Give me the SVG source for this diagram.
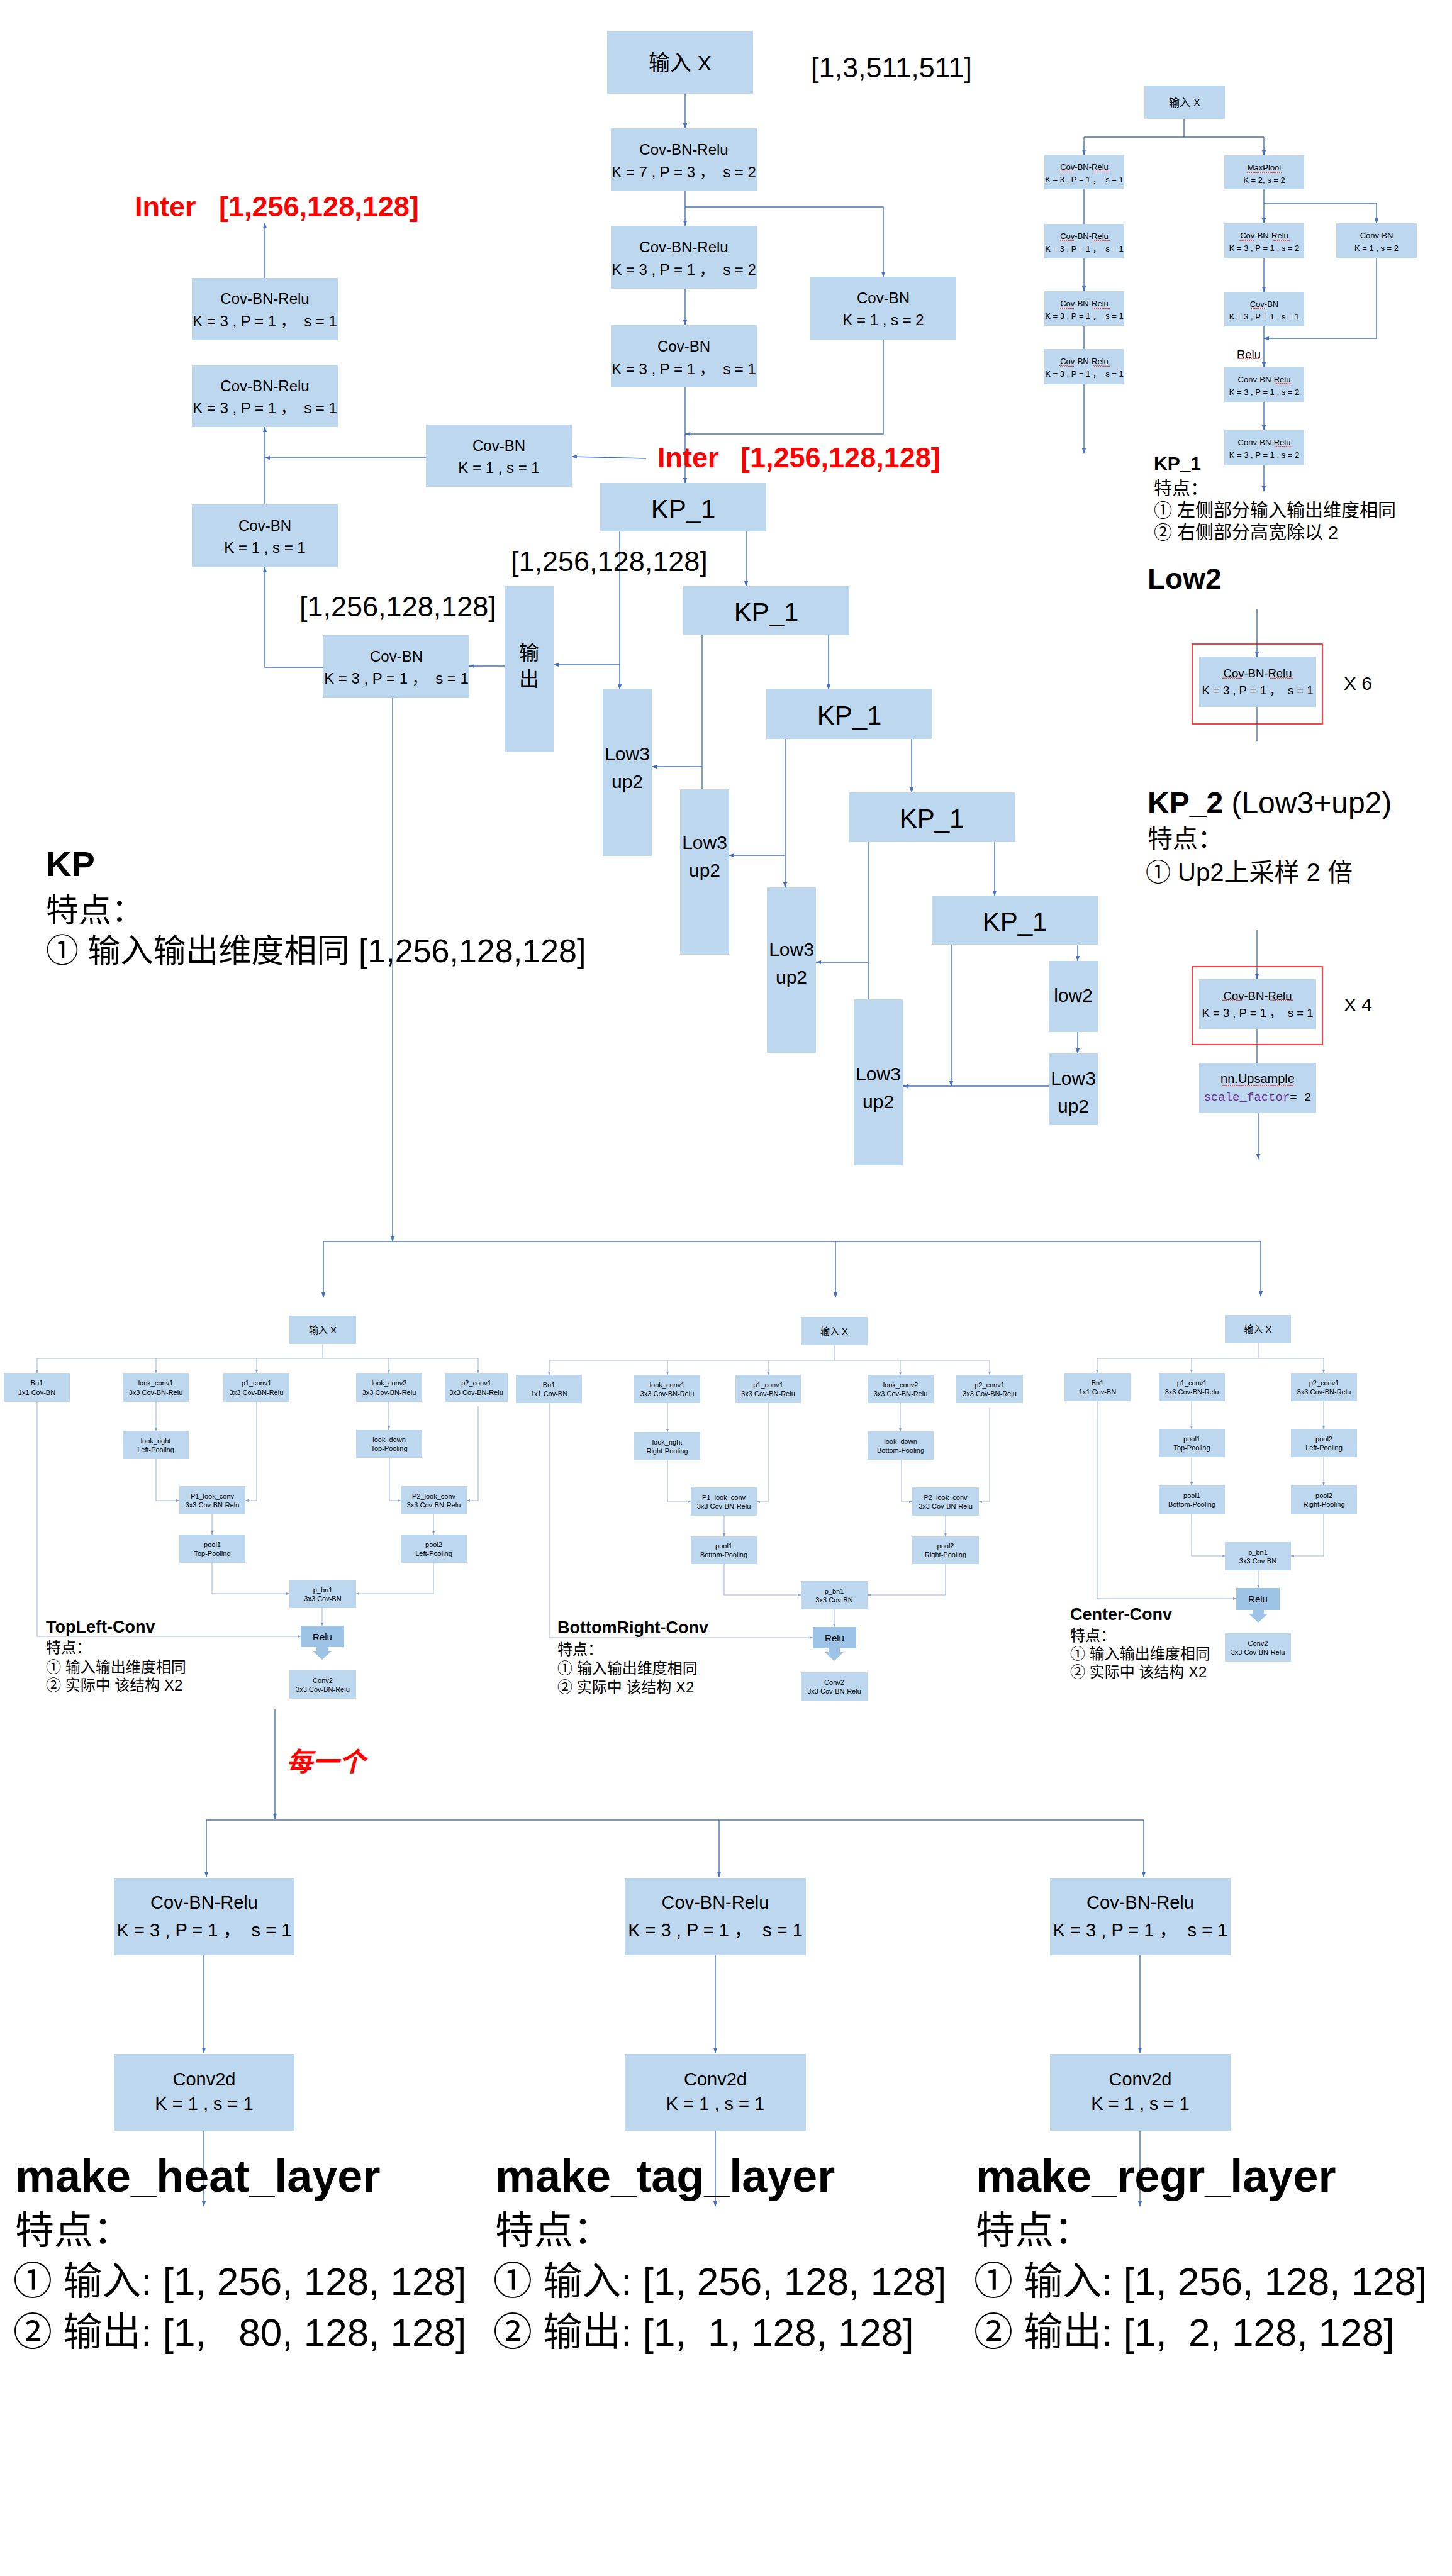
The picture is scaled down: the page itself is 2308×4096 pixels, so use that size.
<svg xmlns="http://www.w3.org/2000/svg" width="2308" height="4096" viewBox="0 0 2308 4096">
<defs>
<style>
.n{fill:#BDD7EE}
.nr{fill:#9DC3E6}
text{font-family:"Liberation Sans","Noto Sans CJK SC",sans-serif;fill:#000}
.m{text-anchor:middle;dominant-baseline:central}
.bd{font-weight:bold}
.red{fill:#FF0000}
.c{stroke:#4472C4;stroke-width:1.4;fill:none}
.s{stroke:#9FB6DE;stroke-width:1.1;fill:none}
.ca{marker-end:url(#a)}
.sa{marker-end:url(#b)}
.f11{font-size:11px}.f13{font-size:13px}.f15{font-size:15px}.f17{font-size:17px}.f18{font-size:18.5px}
.f20{font-size:20px}.f23{font-size:24px}.f24{font-size:24px}.f27{font-size:27px}.f29{font-size:29px}
.f30{font-size:30px}.f32{font-size:32px}.f34{font-size:34px}.f40{font-size:40px}.f42{font-size:42px}
.f45{font-size:45px}.f46{font-size:46px}.f48{font-size:48px}.f50{font-size:52px}.f56{font-size:56px}
.f62{font-size:62px}.f72{font-size:72px}
.sq{fill:url(#w)}
.rb{fill:none;stroke:#FF0000;stroke-width:1.5}
</style>
<marker id="a" viewBox="0 0 10 10" refX="9" refY="5" markerWidth="9" markerHeight="9" markerUnits="userSpaceOnUse" orient="auto"><path d="M0,1.5 L10,5 L0,8.5z" fill="#4472C4"/></marker>
<marker id="b" viewBox="0 0 10 10" refX="9" refY="5" markerWidth="6" markerHeight="6" markerUnits="userSpaceOnUse" orient="auto"><path d="M0,1.5 L10,5 L0,8.5z" fill="#7F9FD4"/></marker>
<pattern id="w" width="6" height="4" patternUnits="userSpaceOnUse"><path d="M0,3 L1.5,1 L3,3 L4.5,1 L6,3" stroke="#E03030" stroke-width="0.8" fill="none"/></pattern>
</defs>
<rect width="2308" height="4096" fill="#FFFFFF"/>

<g id="connectors">
<path class="c ca" d="M1089,149 V204"/>
<path class="c ca" d="M1089,304 V359"/>
<path class="c ca" d="M1089,329 H1404 V440"/>
<path class="c ca" d="M1089,459 V517"/>
<path class="c ca" d="M1089,616 V768"/>
<path class="c ca" d="M1404,540 V690 H1089"/>
<path class="c ca" d="M1027,729 L909,726"/>
<path class="c ca" d="M421,442 V355"/>
<path class="c ca" d="M677,728 H421"/>
<path class="c ca" d="M421,802 V679"/>
<path class="c ca" d="M513,1061 H421 V902"/>
<path class="c ca" d="M802,1059 H746"/>
<path class="c ca" d="M624,1110 V1974"/>
<path class="c ca" d="M985,845 V1096"/>
<path class="c ca" d="M985,1057 H880"/>
<path class="c" d="M1116,1010 V1255"/>
<path class="c ca" d="M1116,1219 H1036"/>
<path class="c ca" d="M1248,1174 V1411"/>
<path class="c ca" d="M1248,1360 H1159"/>
<path class="c" d="M1380,1339 V1589"/>
<path class="c ca" d="M1380,1530 H1297"/>
<path class="c ca" d="M1512,1502 V1727"/>
<path class="c ca" d="M1667,1727 H1435"/>
<path class="c ca" d="M1186,845 V932"/>
<path class="c ca" d="M1317,1010 V1096"/>
<path class="c ca" d="M1449,1175 V1260"/>
<path class="c ca" d="M1581,1339 V1424"/>
<path class="c ca" d="M1713,1502 V1528"/>
<path class="c ca" d="M1713,1641 V1675"/>
<path class="c" d="M1882,189 V218 M1723,218 H2009"/>
<path class="c ca" d="M1723,218 V246"/>
<path class="c ca" d="M2009,218 V247"/>
<path class="c" d="M1723,300 V356"/>
<path class="c ca" d="M1723,411 V463"/>
<path class="c" d="M1723,518 V555"/>
<path class="c ca" d="M1723,611 V721"/>
<path class="c ca" d="M2009,301 V355"/>
<path class="c ca" d="M2009,323 H2188 V355"/>
<path class="c ca" d="M2009,410 V464"/>
<path class="c ca" d="M2188,410 V538 H2009"/>
<path class="c ca" d="M2009,519 V584"/>
<path class="c ca" d="M2009,639 V684"/>
<path class="c ca" d="M2009,740 V781"/>
<path class="c ca" d="M1998,969 V1044"/>
<path class="c" d="M1998,1124 V1179"/>
<path class="c ca" d="M1998,1479 V1557"/>
<path class="c" d="M1998,1636 V1690"/>
<path class="c ca" d="M2000,1770 V1843"/>
<path class="c" d="M514,1974 H2004"/>
<path class="c ca" d="M514,1974 V2063"/>
<path class="c ca" d="M1328,1974 V2063"/>
<path class="c ca" d="M2004,1974 V2061"/>
<path class="s" d="M513,2137 V2160 M59,2160 H760"/>
<path class="s sa" d="M59,2160 V2183"/><path class="s sa" d="M248,2160 V2183"/><path class="s sa" d="M408,2160 V2183"/><path class="s sa" d="M618,2160 V2183"/><path class="s sa" d="M760,2160 V2183"/>
<path class="s sa" d="M59,2229 V2602 H478"/>
<path class="s sa" d="M248,2229 V2275"/>
<path class="s sa" d="M248,2320 V2386 H285"/>
<path class="s sa" d="M408,2229 V2386 H390"/>
<path class="s sa" d="M337,2408 V2440"/>
<path class="s sa" d="M337,2485 V2534 H460"/>
<path class="s sa" d="M618,2229 V2273"/>
<path class="s sa" d="M619,2318 V2386 H637"/>
<path class="s sa" d="M760,2236 V2386 H742"/>
<path class="s sa" d="M689,2408 V2440"/>
<path class="s sa" d="M689,2485 V2534 H566"/>
<path class="s sa" d="M512,2557 V2585"/>
<path class="s" d="M1326,2139 V2163 M873,2163 H1573"/>
<path class="s sa" d="M873,2163 V2186"/><path class="s sa" d="M1061,2163 V2186"/><path class="s sa" d="M1221,2163 V2186"/><path class="s sa" d="M1431,2163 V2186"/><path class="s sa" d="M1573,2163 V2186"/>
<path class="s sa" d="M873,2231 V2604 H1292"/>
<path class="s sa" d="M1061,2231 V2277"/>
<path class="s sa" d="M1061,2322 V2388 H1098"/>
<path class="s sa" d="M1221,2231 V2388 H1203"/>
<path class="s sa" d="M1151,2410 V2443"/>
<path class="s sa" d="M1151,2487 V2536 H1273"/>
<path class="s sa" d="M1431,2231 V2276"/>
<path class="s sa" d="M1433,2321 V2388 H1450"/>
<path class="s sa" d="M1573,2239 V2388 H1556"/>
<path class="s sa" d="M1503,2410 V2443"/>
<path class="s sa" d="M1503,2487 V2536 H1379"/>
<path class="s sa" d="M1326,2559 V2587"/>
<path class="s" d="M2000,2136 V2160 M1744,2160 H2104"/>
<path class="s sa" d="M1744,2160 V2183"/><path class="s sa" d="M1894,2160 V2183"/><path class="s sa" d="M2104,2160 V2183"/>
<path class="s sa" d="M1744,2228 V2542 H1965"/>
<path class="s sa" d="M1894,2228 V2272"/>
<path class="s sa" d="M1894,2317 V2362"/>
<path class="s sa" d="M1894,2408 V2474 H1947"/>
<path class="s sa" d="M2104,2228 V2272"/>
<path class="s sa" d="M2104,2317 V2362"/>
<path class="s sa" d="M2104,2408 V2474 H2052"/>
<path class="s sa" d="M2000,2497 V2525"/>
<path class="c ca" d="M437,2718 V2892"/>
<path class="c" d="M328,2894 H1818"/>
<path class="c ca" d="M328,2894 V2984"/>
<path class="c ca" d="M1143,2894 V2984"/>
<path class="c ca" d="M1818,2894 V2984"/>
<path class="c ca" d="M324,3109 V3264"/>
<path class="c ca" d="M324,3388 V3508"/>
<path class="c ca" d="M1137,3109 V3264"/>
<path class="c ca" d="M1137,3388 V3508"/>
<path class="c ca" d="M1812,3109 V3264"/>
<path class="c ca" d="M1812,3388 V3508"/>
</g>

<g id="n-input"><rect class="n" x="965" y="50" width="232" height="99"/><text class="m f34" x="1081" y="100">输入 X</text></g>
<text class="f45" x="1289" y="123">[1,3,511,511]</text>
<g id="n-cbr7"><rect class="n" x="971" y="204" width="232" height="100"/><text class="m f24" x="1087" y="237">Cov-BN-Relu</text><text class="m f24" x="1087" y="273" xml:space="preserve">K = 7 , P = 3 ，  s = 2</text></g>
<g id="n-cbr3s2"><rect class="n" x="971" y="359" width="232" height="100"/><text class="m f24" x="1087" y="392">Cov-BN-Relu</text><text class="m f24" x="1087" y="428" xml:space="preserve">K = 3 , P = 1 ，  s = 2</text></g>
<g id="n-cb3"><rect class="n" x="971" y="517" width="232" height="99"/><text class="m f24" x="1087" y="550">Cov-BN</text><text class="m f24" x="1087" y="586" xml:space="preserve">K = 3 , P = 1 ，  s = 1</text></g>
<g id="n-cb1s2"><rect class="n" x="1288" y="440" width="232" height="100"/><text class="m f24" x="1404" y="473">Cov-BN</text><text class="m f24" x="1404" y="508">K = 1 , s = 2</text></g>
<text class="bd red f45" x="1045" y="743" xml:space="preserve">Inter   <tspan x="1177">[1,256,128,128]</tspan></text>

<g id="n-kp1a"><rect class="n" x="954" y="768" width="264" height="77"/><text class="m f42" x="1086" y="809">KP_1</text></g>
<g id="n-kp1b"><rect class="n" x="1086" y="932" width="264" height="78"/><text class="m f42" x="1218" y="973">KP_1</text></g>
<g id="n-kp1c"><rect class="n" x="1218" y="1096" width="264" height="79"/><text class="m f42" x="1350" y="1137">KP_1</text></g>
<g id="n-kp1d"><rect class="n" x="1349" y="1260" width="264" height="79"/><text class="m f42" x="1481" y="1301">KP_1</text></g>
<g id="n-kp1e"><rect class="n" x="1481" y="1424" width="264" height="78"/><text class="m f42" x="1613" y="1465">KP_1</text></g>
<text class="f45" x="812" y="908">[1,256,128,128]</text>
<g id="n-out"><rect class="n" x="802" y="932" width="78" height="264"/><text class="m f32" x="841" y="1038">输</text><text class="m f32" x="841" y="1080">出</text></g>
<g id="n-low3a"><rect class="n" x="958" y="1096" width="78" height="265"/><text class="m f30" x="997" y="1198">Low3</text><text class="m f30" x="997" y="1242">up2</text></g>
<g id="n-low3b"><rect class="n" x="1081" y="1255" width="78" height="263"/><text class="m f30" x="1120" y="1339">Low3</text><text class="m f30" x="1120" y="1383">up2</text></g>
<g id="n-low3c"><rect class="n" x="1219" y="1411" width="78" height="263"/><text class="m f30" x="1258" y="1509">Low3</text><text class="m f30" x="1258" y="1553">up2</text></g>
<g id="n-low3d"><rect class="n" x="1357" y="1589" width="78" height="264"/><text class="m f30" x="1396" y="1707">Low3</text><text class="m f30" x="1396" y="1751">up2</text></g>
<g id="n-low2"><rect class="n" x="1667" y="1528" width="78" height="113"/><text class="m f30" x="1706" y="1582">low2</text></g>
<g id="n-low3e"><rect class="n" x="1667" y="1675" width="78" height="114"/><text class="m f30" x="1706" y="1714">Low3</text><text class="m f30" x="1706" y="1758">up2</text></g>

<text class="bd red f45" x="214" y="344" xml:space="preserve">Inter   <tspan x="348">[1,256,128,128]</tspan></text>
<g id="n-la"><rect class="n" x="305" y="442" width="232" height="99"/><text class="m f24" x="421" y="474">Cov-BN-Relu</text><text class="m f24" x="421" y="510" xml:space="preserve">K = 3 , P = 1 ，  s = 1</text></g>
<g id="n-lb"><rect class="n" x="305" y="581" width="232" height="98"/><text class="m f24" x="421" y="613">Cov-BN-Relu</text><text class="m f24" x="421" y="648" xml:space="preserve">K = 3 , P = 1 ，  s = 1</text></g>
<g id="n-lc"><rect class="n" x="305" y="802" width="232" height="100"/><text class="m f24" x="421" y="835">Cov-BN</text><text class="m f24" x="421" y="870">K = 1 , s = 1</text></g>
<g id="n-lk1"><rect class="n" x="677" y="675" width="232" height="99"/><text class="m f24" x="793" y="708">Cov-BN</text><text class="m f24" x="793" y="743">K = 1 , s = 1</text></g>
<g id="n-ld"><rect class="n" x="513" y="1010" width="233" height="100"/><text class="m f24" x="630" y="1043">Cov-BN</text><text class="m f24" x="630" y="1078" xml:space="preserve">K = 3 , P = 1 ，  s = 1</text></g>
<text class="f45" x="476" y="980">[1,256,128,128]</text>
<text class="bd f56" x="73" y="1393">KP</text>
<text class="f50" x="73" y="1466">特点：</text>
<text class="f50" x="73" y="1530" xml:space="preserve">① 输入输出维度相同 [1,256,128,128]</text>

<g id="n-tr-in"><rect class="n" x="1819" y="136" width="128" height="53"/><text class="m f17" x="1883" y="163">输入 X</text></g>
<g id="n-tr-l1"><rect class="n" x="1660" y="246" width="127" height="55"/><text class="m f13" x="1723.5" y="265.5">Cov-BN-Relu</text><text class="m f13" x="1723.5" y="285" xml:space="preserve">K = 3 , P = 1 ，  s = 1</text><rect class="sq" x="1684" y="270" width="23" height="4"/><rect class="sq" x="1737" y="270" width="27" height="4"/></g>
<g id="n-tr-l2"><rect class="n" x="1660" y="356" width="127" height="55"/><text class="m f13" x="1723.5" y="375.5">Cov-BN-Relu</text><text class="m f13" x="1723.5" y="395" xml:space="preserve">K = 3 , P = 1 ，  s = 1</text><rect class="sq" x="1684" y="380" width="23" height="4"/><rect class="sq" x="1737" y="380" width="27" height="4"/></g>
<g id="n-tr-l3"><rect class="n" x="1660" y="463" width="127" height="55"/><text class="m f13" x="1723.5" y="482.5">Cov-BN-Relu</text><text class="m f13" x="1723.5" y="502" xml:space="preserve">K = 3 , P = 1 ，  s = 1</text><rect class="sq" x="1684" y="487" width="23" height="4"/><rect class="sq" x="1737" y="487" width="27" height="4"/></g>
<g id="n-tr-l4"><rect class="n" x="1660" y="555" width="127" height="56"/><text class="m f13" x="1723.5" y="574.5">Cov-BN-Relu</text><text class="m f13" x="1723.5" y="594" xml:space="preserve">K = 3 , P = 1 ，  s = 1</text><rect class="sq" x="1684" y="579" width="23" height="4"/><rect class="sq" x="1737" y="579" width="27" height="4"/></g>
<g id="n-tr-mp"><rect class="n" x="1946" y="247" width="127" height="54"/><text class="m f13" x="2009.5" y="266.5">MaxPlool</text><text class="m f13" x="2009.5" y="286">K = 2, s = 2</text><rect class="sq" x="1982" y="271" width="55" height="4"/></g>
<g id="n-tr-r2"><rect class="n" x="1946" y="355" width="127" height="55"/><text class="m f13" x="2009.5" y="374.5">Cov-BN-Relu</text><text class="m f13" x="2009.5" y="394">K = 3 , P = 1 , s = 2</text><rect class="sq" x="1970" y="379" width="23" height="4"/><rect class="sq" x="2023" y="379" width="27" height="4"/></g>
<g id="n-tr-r3"><rect class="n" x="1946" y="464" width="127" height="55"/><text class="m f13" x="2009.5" y="483.5">Cov-BN</text><text class="m f13" x="2009.5" y="503">K = 3 , P = 1 , s = 1</text><rect class="sq" x="1989" y="488" width="23" height="4"/></g>
<g id="n-tr-cb"><rect class="n" x="2124" y="355" width="128" height="55"/><text class="m f13" x="2188" y="374.5">Conv-BN</text><text class="m f13" x="2188" y="394">K = 1 , s = 2</text></g>
<text class="m f18" x="1985" y="563">Relu</text><rect class="sq" x="1967" y="569" width="36" height="4"/>
<g id="n-tr-r4"><rect class="n" x="1946" y="584" width="127" height="55"/><text class="m f13" x="2009.5" y="603.5">Conv-BN-Relu</text><text class="m f13" x="2009.5" y="623">K = 3 , P = 1 , s = 2</text><rect class="sq" x="2026" y="608" width="27" height="4"/></g>
<g id="n-tr-r5"><rect class="n" x="1946" y="684" width="127" height="56"/><text class="m f13" x="2009.5" y="703.5">Conv-BN-Relu</text><text class="m f13" x="2009.5" y="723">K = 3 , P = 1 , s = 2</text><rect class="sq" x="2026" y="708" width="27" height="4"/></g>
<text class="bd f30" x="1834" y="747">KP_1</text>
<text class="f29" x="1834" y="787">特点：</text>
<text class="f29" x="1834" y="822">① 左侧部分输入输出维度相同</text>
<text class="f29" x="1834" y="857">② 右侧部分高宽除以 2</text>

<text class="bd f46" x="1824" y="936">Low2</text>
<rect class="rb" x="1895" y="1024" width="207" height="127"/>
<g id="n-low2-cbr"><rect class="n" x="1906" y="1044" width="186" height="80"/><text class="m f18" x="1999" y="1070">Cov-BN-Relu</text><text class="m f18" x="1999" y="1097" xml:space="preserve">K = 3 , P = 1 ，  s = 1</text><rect class="sq" x="1942" y="1076" width="32" height="4"/><rect class="sq" x="2018" y="1076" width="38" height="4"/></g>
<text class="f30" x="2136" y="1097">X 6</text>
<text class="f48" x="1824" y="1293"><tspan class="bd">KP_2</tspan> (Low3+up2)</text>
<text class="f40" x="1824" y="1347">特点：</text>
<text class="f40" x="1821" y="1401">① Up2上采样 2 倍</text>
<rect class="rb" x="1895" y="1537" width="207" height="124"/>
<g id="n-kp2-cbr"><rect class="n" x="1906" y="1557" width="186" height="79"/><text class="m f18" x="1999" y="1583">Cov-BN-Relu</text><text class="m f18" x="1999" y="1610" xml:space="preserve">K = 3 , P = 1 ，  s = 1</text><rect class="sq" x="1942" y="1589" width="32" height="4"/><rect class="sq" x="2018" y="1589" width="38" height="4"/></g>
<text class="f30" x="2136" y="1608">X 4</text>
<g id="n-upsample"><rect class="n" x="1906" y="1690" width="186" height="80"/><text class="m f20" x="1999" y="1715">nn.Upsample</text><rect class="sq" x="1942" y="1723" width="115" height="4"/><text class="m" x="1999" y="1745" style="font-family:'Liberation Mono',monospace;font-size:19px" xml:space="preserve"><tspan fill="#7030A0">scale_factor</tspan>= 2</text></g>

<g id="tl-in"><rect class="n" x="460" y="2092" width="106" height="45"/><text class="m f15" x="513" y="2114">输入 X</text></g>
<g id="tl-bn1"><rect class="n" x="6" y="2183" width="105" height="46"/><text class="m f11" x="58.5" y="2199">Bn1</text><text class="m f11" x="58.5" y="2214">1x1 Cov-BN</text></g>
<g id="tl-lc1"><rect class="n" x="195" y="2183" width="105" height="46"/><text class="m f11" x="247.5" y="2199">look_conv1</text><text class="m f11" x="247.5" y="2214">3x3 Cov-BN-Relu</text></g>
<g id="tl-p1c1"><rect class="n" x="355" y="2183" width="105" height="46"/><text class="m f11" x="407.5" y="2199">p1_conv1</text><text class="m f11" x="407.5" y="2214">3x3 Cov-BN-Relu</text></g>
<g id="tl-lc2"><rect class="n" x="566" y="2183" width="105" height="46"/><text class="m f11" x="618.5" y="2199">look_conv2</text><text class="m f11" x="618.5" y="2214">3x3 Cov-BN-Relu</text></g>
<g id="tl-p2c1"><rect class="n" x="707" y="2183" width="100" height="46"/><text class="m f11" x="757" y="2199">p2_conv1</text><text class="m f11" x="757" y="2214">3x3 Cov-BN-Relu</text></g>
<g id="tl-lr"><rect class="n" x="195" y="2275" width="105" height="45"/><text class="m f11" x="247.5" y="2291">look_right</text><text class="m f11" x="247.5" y="2305">Left-Pooling</text></g>
<g id="tl-ld"><rect class="n" x="566" y="2273" width="105" height="45"/><text class="m f11" x="618.5" y="2289">look_down</text><text class="m f11" x="618.5" y="2303">Top-Pooling</text></g>
<g id="tl-p1l"><rect class="n" x="285" y="2363" width="105" height="45"/><text class="m f11" x="337.5" y="2379">P1_look_conv</text><text class="m f11" x="337.5" y="2393">3x3 Cov-BN-Relu</text></g>
<g id="tl-p2l"><rect class="n" x="637" y="2363" width="105" height="45"/><text class="m f11" x="689.5" y="2379">P2_look_conv</text><text class="m f11" x="689.5" y="2393">3x3 Cov-BN-Relu</text></g>
<g id="tl-pool1"><rect class="n" x="285" y="2440" width="105" height="45"/><text class="m f11" x="337.5" y="2456">pool1</text><text class="m f11" x="337.5" y="2470">Top-Pooling</text></g>
<g id="tl-pool2"><rect class="n" x="637" y="2440" width="105" height="45"/><text class="m f11" x="689.5" y="2456">pool2</text><text class="m f11" x="689.5" y="2470">Left-Pooling</text></g>
<g id="tl-pbn"><rect class="n" x="460" y="2512" width="106" height="45"/><text class="m f11" x="513" y="2528">p_bn1</text><text class="m f11" x="513" y="2542">3x3 Cov-BN</text></g>
<g id="tl-relu"><rect class="nr" x="478" y="2585" width="69" height="34"/><text class="m f15" x="512.5" y="2602">Relu</text><polygon class="nr" points="503,2619 521,2619 521,2625 527,2625 512,2639 497,2625 503,2625"/></g>
<g id="tl-conv2"><rect class="n" x="460" y="2656" width="106" height="45"/><text class="m f11" x="513" y="2672">Conv2</text><text class="m f11" x="513" y="2686">3x3 Cov-BN-Relu</text></g>
<text class="bd f27" x="73" y="2596">TopLeft-Conv</text>
<text class="f23" x="73" y="2628">特点：</text>
<text class="f23" x="73" y="2659">① 输入输出维度相同</text>
<text class="f23" x="73" y="2688">② 实际中 该结构 X2</text>

<g id="br-in"><rect class="n" x="1273" y="2094" width="106" height="45"/><text class="m f15" x="1326" y="2116">输入 X</text></g>
<g id="br-bn1"><rect class="n" x="820" y="2186" width="105" height="45"/><text class="m f11" x="872.5" y="2202">Bn1</text><text class="m f11" x="872.5" y="2216">1x1 Cov-BN</text></g>
<g id="br-lc1"><rect class="n" x="1008" y="2186" width="105" height="45"/><text class="m f11" x="1060.5" y="2202">look_conv1</text><text class="m f11" x="1060.5" y="2216">3x3 Cov-BN-Relu</text></g>
<g id="br-p1c1"><rect class="n" x="1169" y="2186" width="104" height="45"/><text class="m f11" x="1221" y="2202">p1_conv1</text><text class="m f11" x="1221" y="2216">3x3 Cov-BN-Relu</text></g>
<g id="br-lc2"><rect class="n" x="1379" y="2186" width="105" height="45"/><text class="m f11" x="1431.5" y="2202">look_conv2</text><text class="m f11" x="1431.5" y="2216">3x3 Cov-BN-Relu</text></g>
<g id="br-p2c1"><rect class="n" x="1520" y="2186" width="106" height="45"/><text class="m f11" x="1573" y="2202">p2_conv1</text><text class="m f11" x="1573" y="2216">3x3 Cov-BN-Relu</text></g>
<g id="br-lr"><rect class="n" x="1008" y="2277" width="105" height="45"/><text class="m f11" x="1060.5" y="2293">look_right</text><text class="m f11" x="1060.5" y="2307">Right-Pooling</text></g>
<g id="br-ld"><rect class="n" x="1379" y="2276" width="105" height="45"/><text class="m f11" x="1431.5" y="2292">look_down</text><text class="m f11" x="1431.5" y="2306">Bottom-Pooling</text></g>
<g id="br-p1l"><rect class="n" x="1098" y="2365" width="105" height="45"/><text class="m f11" x="1150.5" y="2381">P1_look_conv</text><text class="m f11" x="1150.5" y="2395">3x3 Cov-BN-Relu</text></g>
<g id="br-p2l"><rect class="n" x="1450" y="2365" width="106" height="45"/><text class="m f11" x="1503" y="2381">P2_look_conv</text><text class="m f11" x="1503" y="2395">3x3 Cov-BN-Relu</text></g>
<g id="br-pool1"><rect class="n" x="1098" y="2443" width="105" height="44"/><text class="m f11" x="1150.5" y="2458">pool1</text><text class="m f11" x="1150.5" y="2472">Bottom-Pooling</text></g>
<g id="br-pool2"><rect class="n" x="1450" y="2443" width="106" height="44"/><text class="m f11" x="1503" y="2458">pool2</text><text class="m f11" x="1503" y="2472">Right-Pooling</text></g>
<g id="br-pbn"><rect class="n" x="1273" y="2514" width="106" height="45"/><text class="m f11" x="1326" y="2530">p_bn1</text><text class="m f11" x="1326" y="2544">3x3 Cov-BN</text></g>
<g id="br-relu"><rect class="nr" x="1292" y="2587" width="69" height="34"/><text class="m f15" x="1326.5" y="2604">Relu</text><polygon class="nr" points="1317,2621 1335,2621 1335,2627 1341,2627 1326,2641 1311,2627 1317,2627"/></g>
<g id="br-conv2"><rect class="n" x="1273" y="2659" width="106" height="45"/><text class="m f11" x="1326" y="2675">Conv2</text><text class="m f11" x="1326" y="2689">3x3 Cov-BN-Relu</text></g>
<text class="bd f27" x="886" y="2597">BottomRight-Conv</text>
<text class="f23" x="886" y="2631">特点：</text>
<text class="f23" x="886" y="2661">① 输入输出维度相同</text>
<text class="f23" x="886" y="2691">② 实际中 该结构 X2</text>

<g id="cc-in"><rect class="n" x="1947" y="2091" width="105" height="45"/><text class="m f15" x="1999.5" y="2113">输入 X</text></g>
<g id="cc-bn1"><rect class="n" x="1692" y="2183" width="105" height="45"/><text class="m f11" x="1744.5" y="2199">Bn1</text><text class="m f11" x="1744.5" y="2213">1x1 Cov-BN</text></g>
<g id="cc-p1c1"><rect class="n" x="1842" y="2183" width="105" height="45"/><text class="m f11" x="1894.5" y="2199">p1_conv1</text><text class="m f11" x="1894.5" y="2213">3x3 Cov-BN-Relu</text></g>
<g id="cc-p2c1"><rect class="n" x="2052" y="2183" width="105" height="45"/><text class="m f11" x="2104.5" y="2199">p2_conv1</text><text class="m f11" x="2104.5" y="2213">3x3 Cov-BN-Relu</text></g>
<g id="cc-pool1a"><rect class="n" x="1842" y="2272" width="105" height="45"/><text class="m f11" x="1894.5" y="2288">pool1</text><text class="m f11" x="1894.5" y="2302">Top-Pooling</text></g>
<g id="cc-pool2a"><rect class="n" x="2052" y="2272" width="105" height="45"/><text class="m f11" x="2104.5" y="2288">pool2</text><text class="m f11" x="2104.5" y="2302">Left-Pooling</text></g>
<g id="cc-pool1b"><rect class="n" x="1842" y="2362" width="105" height="46"/><text class="m f11" x="1894.5" y="2378">pool1</text><text class="m f11" x="1894.5" y="2392">Bottom-Pooling</text></g>
<g id="cc-pool2b"><rect class="n" x="2052" y="2362" width="105" height="46"/><text class="m f11" x="2104.5" y="2378">pool2</text><text class="m f11" x="2104.5" y="2392">Right-Pooling</text></g>
<g id="cc-pbn"><rect class="n" x="1947" y="2452" width="105" height="45"/><text class="m f11" x="1999.5" y="2468">p_bn1</text><text class="m f11" x="1999.5" y="2482">3x3 Cov-BN</text></g>
<g id="cc-relu"><rect class="nr" x="1965" y="2525" width="69" height="35"/><text class="m f15" x="1999.5" y="2542">Relu</text><polygon class="nr" points="1991,2560 2009,2560 2009,2566 2015,2566 2000,2580 1985,2566 1991,2566"/></g>
<g id="cc-conv2"><rect class="n" x="1947" y="2597" width="105" height="45"/><text class="m f11" x="1999.5" y="2613">Conv2</text><text class="m f11" x="1999.5" y="2627">3x3 Cov-BN-Relu</text></g>
<text class="bd f27" x="1701" y="2576">Center-Conv</text>
<text class="f23" x="1701" y="2609">特点：</text>
<text class="f23" x="1701" y="2638">① 输入输出维度相同</text>
<text class="f23" x="1701" y="2667">② 实际中 该结构 X2</text>

<text class="red f42 bd" x="455" y="2816" style="font-style:italic">每一个</text>
<g id="h-heat-cbr"><rect class="n" x="181" y="2986" width="287" height="123"/><text class="m f29" x="324.5" y="3025">Cov-BN-Relu</text><text class="m f29" x="324.5" y="3069" xml:space="preserve">K = 3 , P = 1 ，  s = 1</text></g>
<g id="h-heat-conv"><rect class="n" x="181" y="3266" width="287" height="122"/><text class="m f29" x="324.5" y="3306">Conv2d</text><text class="m f29" x="324.5" y="3345">K = 1 , s = 1</text></g>
<g id="h-tag-cbr"><rect class="n" x="993" y="2986" width="288" height="123"/><text class="m f29" x="1137" y="3025">Cov-BN-Relu</text><text class="m f29" x="1137" y="3069" xml:space="preserve">K = 3 , P = 1 ，  s = 1</text></g>
<g id="h-tag-conv"><rect class="n" x="993" y="3266" width="288" height="122"/><text class="m f29" x="1137" y="3306">Conv2d</text><text class="m f29" x="1137" y="3345">K = 1 , s = 1</text></g>
<g id="h-regr-cbr"><rect class="n" x="1669" y="2986" width="287" height="123"/><text class="m f29" x="1812.5" y="3025">Cov-BN-Relu</text><text class="m f29" x="1812.5" y="3069" xml:space="preserve">K = 3 , P = 1 ，  s = 1</text></g>
<g id="h-regr-conv"><rect class="n" x="1669" y="3266" width="287" height="122"/><text class="m f29" x="1812.5" y="3306">Conv2d</text><text class="m f29" x="1812.5" y="3345">K = 1 , s = 1</text></g>

<text class="bd f72" x="24" y="3485">make_heat_layer</text>
<text class="f62" x="24" y="3568">特点：</text>
<text class="f62" x="21" y="3649" xml:space="preserve">① 输入: [1, 256, 128, 128]</text>
<text class="f62" x="21" y="3730" xml:space="preserve">② 输出: [1,   80, 128, 128]</text>

<text class="bd f72" x="787" y="3485">make_tag_layer</text>
<text class="f62" x="787" y="3568">特点：</text>
<text class="f62" x="784" y="3649" xml:space="preserve">① 输入: [1, 256, 128, 128]</text>
<text class="f62" x="784" y="3730" xml:space="preserve">② 输出: [1,  1, 128, 128]</text>

<text class="bd f72" x="1551" y="3485">make_regr_layer</text>
<text class="f62" x="1551" y="3568">特点：</text>
<text class="f62" x="1548" y="3649" xml:space="preserve">① 输入: [1, 256, 128, 128]</text>
<text class="f62" x="1548" y="3730" xml:space="preserve">② 输出: [1,  2, 128, 128]</text>
</svg>
